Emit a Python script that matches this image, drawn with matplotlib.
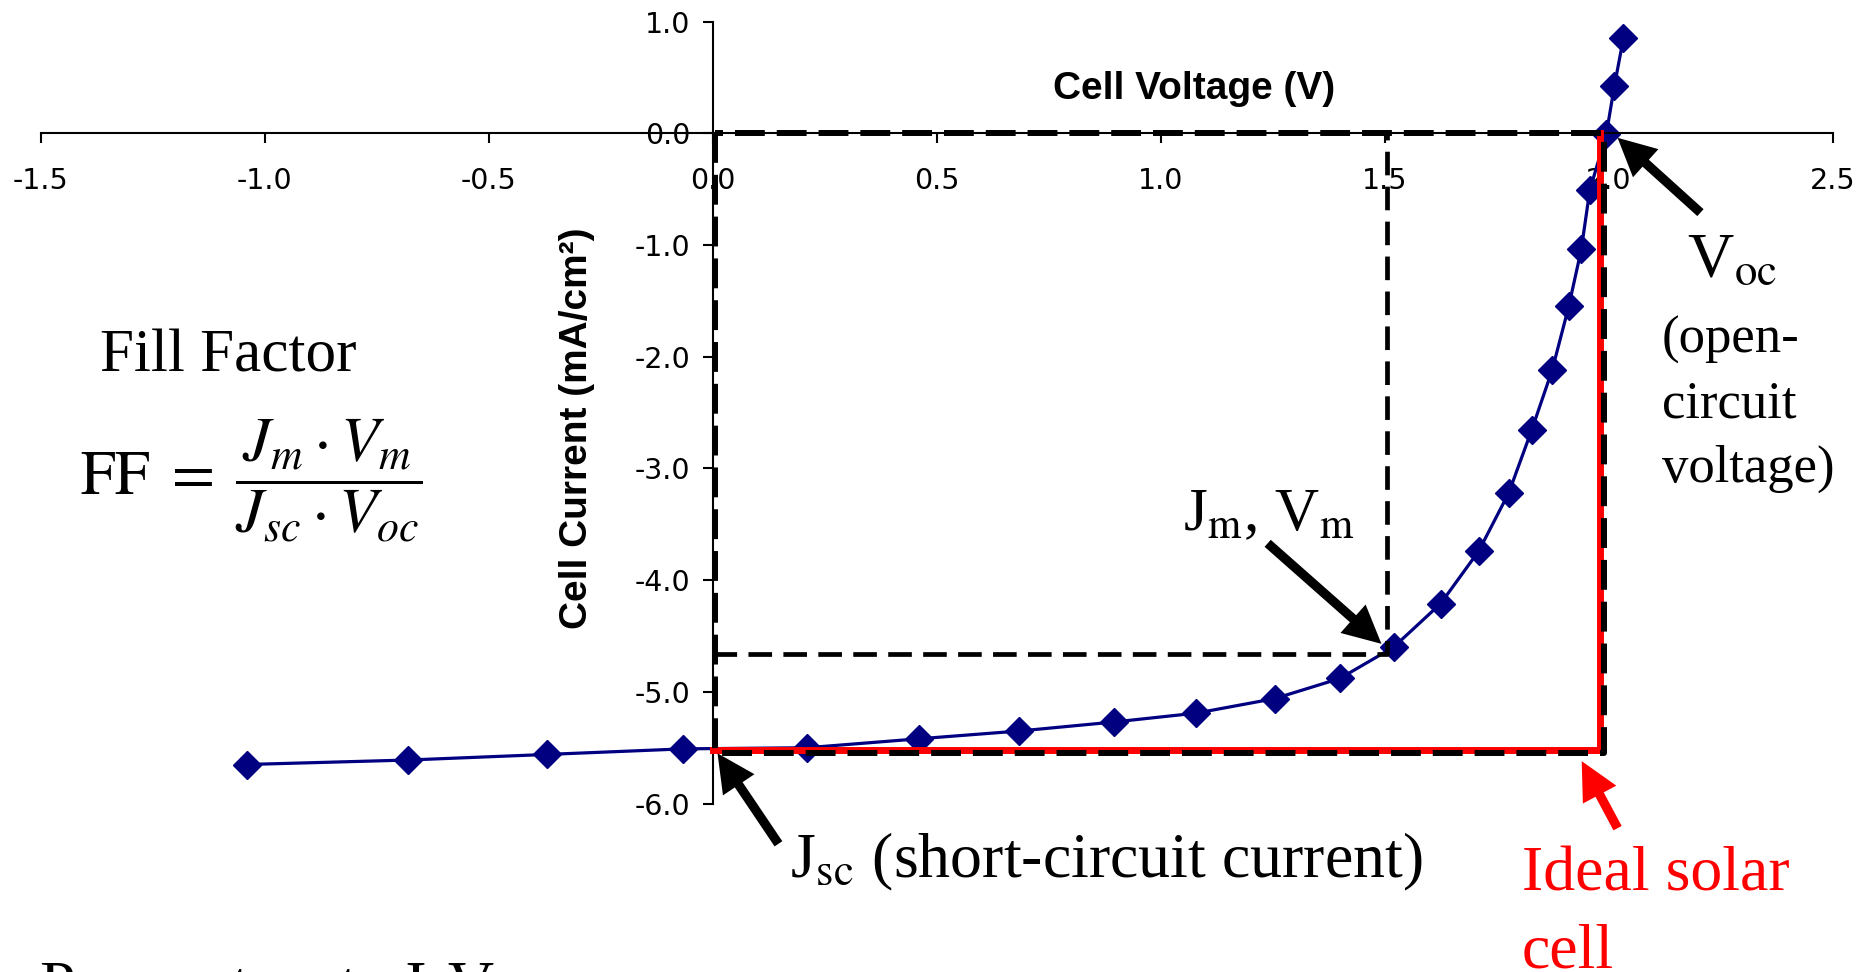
import numpy as np
import matplotlib
matplotlib.use("Agg")
import matplotlib.pyplot as plt
from matplotlib.ticker import FormatStrFormatter

W, H = 1872, 972

# measured I-V curve
voltage = [-1.04, -0.68, -0.37, -0.065, 0.21, 0.46, 0.685, 0.895, 1.08, 1.255, 1.40, 1.52,
           1.625, 1.71, 1.777, 1.828, 1.874, 1.911, 1.939, 1.958, 1.995, 2.013, 2.033]
current = [-5.65, -5.61, -5.56, -5.51, -5.50, -5.42, -5.35, -5.27, -5.19, -5.06, -4.88, -4.60,
           -4.21, -3.74, -3.22, -2.66, -2.12, -1.55, -1.04, -0.51, -0.005, 0.425, 0.85]

# characteristic points
v_oc, j_sc = 1.99, -5.55          # dashed box
v_m, j_m = 1.505, -4.66           # max power point
v_ideal, j_ideal = 1.98, -5.52    # ideal cell (red)

x_ticks = [-1.5, -1.0, -0.5, 0.0, 0.5, 1.0, 1.5, 2.0, 2.5]
y_ticks = [-6.0, -5.0, -4.0, -3.0, -2.0, -1.0, 0.0, 1.0]

plt.rcParams['mathtext.fontset'] = 'stix'
SERIF = ['Liberation Serif', 'DejaVu Serif']
SANS = ['Liberation Sans', 'DejaVu Sans']


def fpx(x, y):
    # figure pixel (from top-left) -> figure fraction
    return x / W, 1 - y / H


fig = plt.figure(figsize=(W / 100, H / 100), dpi=100)
ax = fig.add_axes([40.6 / W, 1 - 803.6 / H, 1792 / W, 782 / H])
ax.set_xlim(-1.5, 2.5)
ax.set_ylim(-6, 1)

# axes crossing at the origin
for side in ['top', 'right']:
    ax.spines[side].set_visible(False)
ax.spines['left'].set_position(('data', 0))
ax.spines['bottom'].set_position(('data', 0))
for side in ['left', 'bottom']:
    ax.spines[side].set_linewidth(1.5)
ax.set_xticks(x_ticks)
ax.set_yticks(y_ticks)
ax.xaxis.set_major_formatter(FormatStrFormatter('%.1f'))
ax.yaxis.set_major_formatter(FormatStrFormatter('%.1f'))
ax.tick_params(axis='both', direction='out', length=7, width=1.5, labelsize=20.5)
ax.tick_params(axis='x', pad=17)
ax.tick_params(axis='y', pad=9)
for lab in ax.get_xticklabels() + ax.get_yticklabels():
    lab.set_family('DejaVu Sans')

ax.set_xlabel('Cell Voltage (V)', fontsize=28, fontweight='bold', family=SANS, va='center')
ax.xaxis.set_label_coords(0.6439, 0.9144)
ax.set_ylabel('Cell Current (mA/cm²)', fontsize=28, fontweight='bold', family=SANS, va='center')
ax.yaxis.set_label_coords(0.2993, 0.4797)

# data curve
ax.plot(voltage, current, color='#000080', lw=2.3, marker='D', ms=14,
        mfc='#000080', mec='#000080', mew=1, zorder=2, clip_on=False)

# ideal solar cell
ax.plot([0, v_ideal, v_ideal], [j_ideal, j_ideal, 0], color='#ff0000', lw=5,
        solid_joinstyle='miter', zorder=3)

# dashed boxes
ax.plot([0.005, 0.005, v_oc, v_oc, 0.005], [0, j_sc, j_sc, 0, 0], color='black', lw=4.3,
        ls=(0, (5, 2)), zorder=4)
ax.plot([0, v_m, v_m], [j_m, j_m, 0], color='black', lw=3.4, ls=(0, (5, 2.4)), zorder=4)

# arrows
arrow_kw = dict(arrowstyle='simple,head_length=0.65,head_width=0.65,tail_width=0.16',
                mutation_scale=42, shrinkA=0, shrinkB=0, lw=0)
ax.annotate('', xy=(2.02, -0.04), xytext=(2.205, -0.71),
            arrowprops=dict(fc='black', **arrow_kw), annotation_clip=False)
ax.annotate('', xy=(1.493, -4.57), xytext=(1.239, -3.67),
            arrowprops=dict(fc='black', **arrow_kw), annotation_clip=False)
ax.annotate('', xy=(0.011, -5.55), xytext=(0.147, -6.36),
            arrowprops=dict(fc='black', **arrow_kw), annotation_clip=False)
ax.annotate('', xy=(1.94, -5.62), xytext=(2.02, -6.22),
            arrowprops=dict(fc='#ff0000', **arrow_kw), annotation_clip=False)

# annotations
fig.text(*fpx(100, 372), 'Fill Factor', fontsize=44, family=SERIF)
fig.text(*fpx(80, 495), r'$\mathrm{FF}\; = \;\dfrac{J_m \cdot V_m}{J_{sc} \cdot V_{oc}}$',
         fontsize=45)
fig.text(*fpx(1183, 530), r'J$_\mathrm{m}$, V$_\mathrm{m}$', fontsize=44, family=SERIF)
fig.text(*fpx(1687, 277), r'V$_\mathrm{oc}$', fontsize=46, family=SERIF)
fig.text(*fpx(1662, 353), '(open-', fontsize=38, family=SERIF)
fig.text(*fpx(1662, 417), 'circuit', fontsize=38, family=SERIF)
fig.text(*fpx(1662, 482), 'voltage)', fontsize=38, family=SERIF)
fig.text(*fpx(790, 877), r'J$_\mathrm{sc}$ (short-circuit current)', fontsize=46, family=SERIF)
fig.text(*fpx(1522, 890), 'Ideal solar', fontsize=46, family=SERIF, color='#ff0000')
fig.text(*fpx(1522, 967), 'cell', fontsize=46, family=SERIF, color='#ff0000')
fig.text(*fpx(40, 1004), 'Parameters to I-V', fontsize=46, family=SERIF)

fig.savefig('out.png', dpi=100)
